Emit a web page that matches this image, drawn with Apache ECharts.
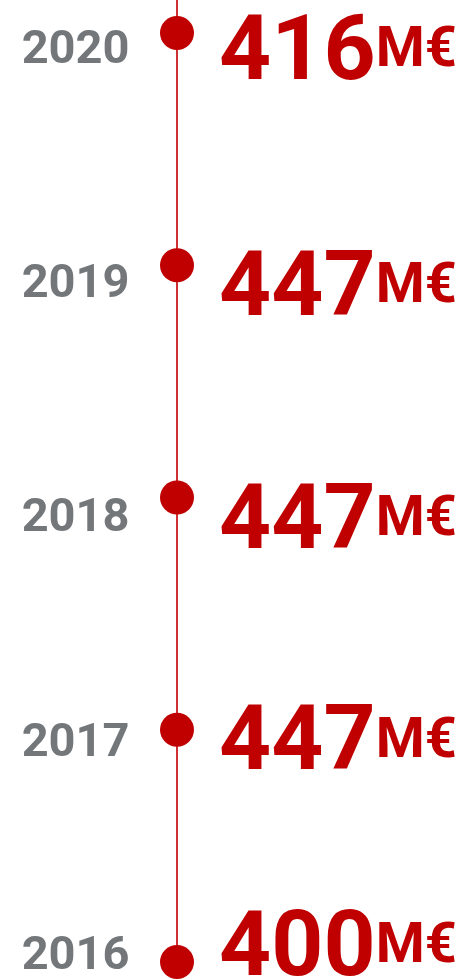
<!DOCTYPE html>
<html>
<head>
<meta charset="utf-8">
<style>
  html, body { margin: 0; padding: 0; background: #ffffff; }
  #chart { width: 465px; height: 980px; }
</style>
<script src="https://cdn.jsdelivr.net/npm/echarts@6/dist/echarts.min.js"></script>
</head>
<body>
<div id="chart"></div>
<script>
// ---- data ----
const years = ['2020', '2019', '2018', '2017', '2016'];
const values = [416, 447, 447, 447, 400];
const unit = 'M€';

// ---- styling (label vertical shifts per entry, in px) ----
const yearShift = [18, 20, 22, 15, -5];
const valueShift = [23, 27, 28, 17, -10];

const RED = '#c00000';
const LINE_RED = '#d02f33';
const GREY = '#505559';
const FONT = 'Roboto';

const chart = echarts.init(document.getElementById('chart'), null, { renderer: 'canvas' });

const dotData = years.map((y, i) => ({
  value: [0, Number(y)],
  label: { offset: [0, valueShift[i]] }
}));
const yearData = years.map((y, i) => ({
  value: [0, Number(y)],
  label: { offset: [0, yearShift[i]] }
}));

chart.setOption({
  animation: false,
  backgroundColor: '#ffffff',
  grid: { left: 177, right: 0, top: 0, bottom: 18 },
  xAxis: { type: 'value', min: 0, max: 1, show: false },
  yAxis: {
    type: 'value',
    min: 2016,
    max: 2020.142,
    axisLine: { show: true, lineStyle: { color: LINE_RED, width: 2 } },
    axisTick: { show: false },
    axisLabel: { show: false },
    splitLine: { show: false }
  },
  series: [
    {
      type: 'scatter',
      data: dotData,
      symbol: 'circle',
      symbolSize: 34,
      itemStyle: { color: RED, opacity: 1 },
      z: 5,
      label: {
        show: true,
        position: 'right',
        distance: 25,
        formatter: (p) => '{n|' + values[p.dataIndex] + '}{u|' + unit + '}',
        rich: {
          n: { fontFamily: FONT, fontWeight: 'bold', fontSize: 91, color: RED, verticalAlign: 'middle' },
          u: { fontFamily: FONT, fontWeight: 'bold', fontSize: 56, color: RED, verticalAlign: 'middle', padding: [0, 0, 8, 0] }
        }
      }
    },
    {
      type: 'scatter',
      data: yearData,
      symbol: 'circle',
      symbolSize: 1,
      itemStyle: { color: 'transparent' },
      z: 4,
      label: {
        show: true,
        position: 'left',
        distance: 47,
        formatter: (p) => years[p.dataIndex],
        fontFamily: FONT,
        fontWeight: 'bold',
        fontSize: 47,
        color: GREY
      }
    }
  ]
});
</script>
</body>
</html>
